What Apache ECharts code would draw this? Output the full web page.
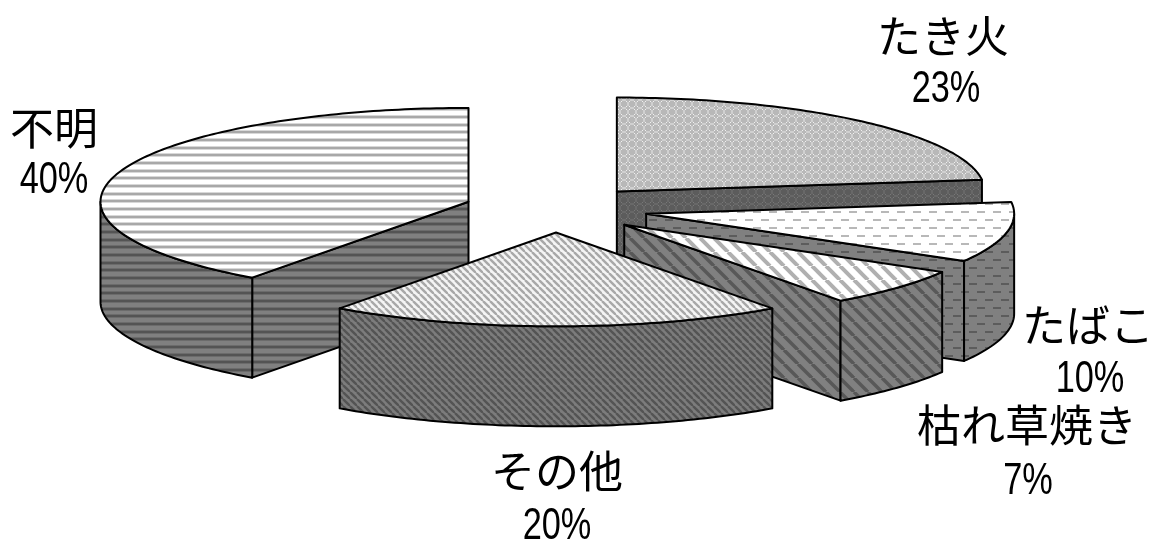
<!DOCTYPE html>
<html>
<head>
<meta charset="utf-8">
<style>
  html, body { margin: 0; padding: 0; background: #fff; }
  #main { width: 1155px; height: 542px; }
</style>
</head>
<body>
<div id="main"></div>
<script src="https://cdn.jsdelivr.net/npm/echarts@6/dist/echarts.min.js"></script>
<script>
const categories = ['たき火', 'たばこ', '枯れ草焼き', 'その他', '不明']
const shares = [23, 10.4, 6.6, 20, 40]

// layout of the tilted pie
const center = [556, 209]
const radius = 368
const tilt = 0.255
const depth = 100
const explode = 92
const labelAnchors = [[943, 36, 946, 90], [1088, 325, 1090, 380], [1027, 425, 1028, 482], [557, 471, 557, 527], [54, 128, 54, 181]]

const makeTile = (w, h, paint) => {
  const tile = document.createElement('canvas')
  tile.width = w
  tile.height = h
  paint(tile.getContext('2d'))
  return { image: tile, repeat: 'repeat' }
}

const lattice = (bg, fg, spot) => makeTile(8, 8, (c) => {
  c.fillStyle = bg
  c.fillRect(0, 0, 8, 8)
  c.fillStyle = fg
  c.fillRect(0, 3, 2, 2)
  c.fillRect(3, 0, 2, 2)
  c.fillRect(3, 6, 2, 2)
  c.fillRect(6, 3, 2, 2)
  c.fillStyle = spot
  c.fillRect(2, 2, 1, 1)
  c.fillRect(5, 5, 1, 1)
  c.fillRect(5, 2, 1, 1)
  c.fillRect(2, 5, 1, 1)
})

const dashes = (bg, fg) => makeTile(16, 16, (c) => {
  c.fillStyle = bg
  c.fillRect(0, 0, 16, 16)
  c.fillStyle = fg
  c.fillRect(1, 3, 8, 2)
  c.fillRect(9, 11, 7, 2)
  c.fillRect(0, 11, 1, 2)
})

const diagonal = (period, width, bg, fg) => makeTile(period, period, (c) => {
  c.fillStyle = bg
  c.fillRect(0, 0, period, period)
  c.strokeStyle = fg
  c.lineWidth = width
  for (let i = -1; i <= 1; i++) {
    c.beginPath()
    c.moveTo(i * period, 0)
    c.lineTo((i + 1) * period, period)
    c.stroke()
  }
})

const horizontal = (bg, fg, edge) => makeTile(4, 23, (c) => {
  c.fillStyle = bg
  c.fillRect(0, 0, 4, 23)
  for (let i = 0; i < 3; i++) {
    const y = Math.round(i * 7.667)
    c.fillStyle = edge
    c.fillRect(0, y, 4, 4)
    c.fillStyle = fg
    c.fillRect(0, y + 1, 4, 2)
  }
})

const topFills = [
  lattice('#b8b8b8', '#d0d0d0', '#f0f0f0'),
  dashes('#ffffff', '#b8b8b8'),
  diagonal(14, 4, '#ffffff', '#b0b0b0'),
  diagonal(7, 2.4, '#f4f4f4', '#a8a8a8'),
  horizontal('#ffffff', '#a8a8a8', '#d8d8d8')
]
const sideFills = [
  lattice('#5c5c5c', '#686868', '#787878'),
  dashes('#808080', '#5c5c5c'),
  diagonal(14, 3.5, '#808080', '#585858'),
  diagonal(7, 2.4, '#7c7c7c', '#545454'),
  horizontal('#808080', '#545454', '#6c6c6c')
]

const rad = (deg) => (deg * Math.PI) / 180
const total = shares.reduce((a, b) => a + b, 0)
const startAngles = shares.map((_, i) => (shares.slice(0, i).reduce((a, b) => a + b, 0) / total) * 360)

const renderSlice = (params, api) => {
  const i = params.dataIndex
  const start = startAngles[i]
  const end = start + (api.value(0) / total) * 360
  const mid = (start + end) / 2
  const apex = [center[0] + explode * Math.sin(rad(mid)), center[1] - tilt * explode * Math.cos(rad(mid))]
  const rim = (deg, drop) => [
    apex[0] + radius * Math.sin(rad(deg)),
    apex[1] - tilt * radius * Math.cos(rad(deg)) + drop
  ]
  const arc = (from, to, drop) => {
    const pts = []
    const steps = Math.max(2, Math.ceil(to - from))
    for (let s = 0; s <= steps; s++) pts.push(rim(from + ((to - from) * s) / steps, drop))
    return pts
  }
  const z2 = Math.round(apex[1])
  const line = { stroke: '#000', lineWidth: 2, lineJoin: 'round' }
  const face = (points, fill, z) => ({
    type: 'polygon',
    z2: z,
    silent: true,
    shape: { points },
    style: { fill, ...line }
  })
  const radial = (deg) => face(
    [apex, rim(deg, 0), rim(deg, depth), [apex[0], apex[1] + depth]],
    sideFills[i],
    z2
  )
  const children = []
  // only the faces turned toward the viewer get drawn
  if (start > 180) children.push(radial(start))
  if (end < 180) children.push(radial(end))
  const rimFrom = Math.max(start, 90)
  const rimTo = Math.min(end, 270)
  if (rimTo > rimFrom) {
    children.push(face(arc(rimFrom, rimTo, 0).concat(arc(rimFrom, rimTo, depth).reverse()), sideFills[i], z2))
  }
  children.push(face([apex].concat(arc(start, end, 0)), topFills[i], z2 + 1))

  const anchor = labelAnchors[i]
  children.push({
    type: 'text',
    z2: 2000,
    silent: true,
    x: anchor[0],
    y: anchor[1],
    style: {
      text: categories[i],
      font: '400 44px "Noto Sans CJK JP"',
      fill: '#000',
      align: 'center',
      verticalAlign: 'middle'
    }
  })
  // no narrow face installed, so squeeze the sans one to the chart's thin digits
  children.push({
    type: 'text',
    z2: 2000,
    silent: true,
    x: anchor[2],
    y: anchor[3],
    scaleX: 0.78,
    style: {
      text: Math.round(api.value(0)) + '%',
      font: '400 44px "Liberation Sans"',
      fill: '#000',
      align: 'center',
      verticalAlign: 'middle'
    }
  })
  return { type: 'group', children }
}

const chart = echarts.init(document.getElementById('main'), null, { renderer: 'canvas' })
chart.setOption({
  animation: false,
  backgroundColor: '#fff',
  series: [
    {
      type: 'custom',
      coordinateSystem: 'none',
      renderItem: renderSlice,
      data: shares.map((v, i) => ({ name: categories[i], value: [v] }))
    }
  ]
})
</script>
</body>
</html>
